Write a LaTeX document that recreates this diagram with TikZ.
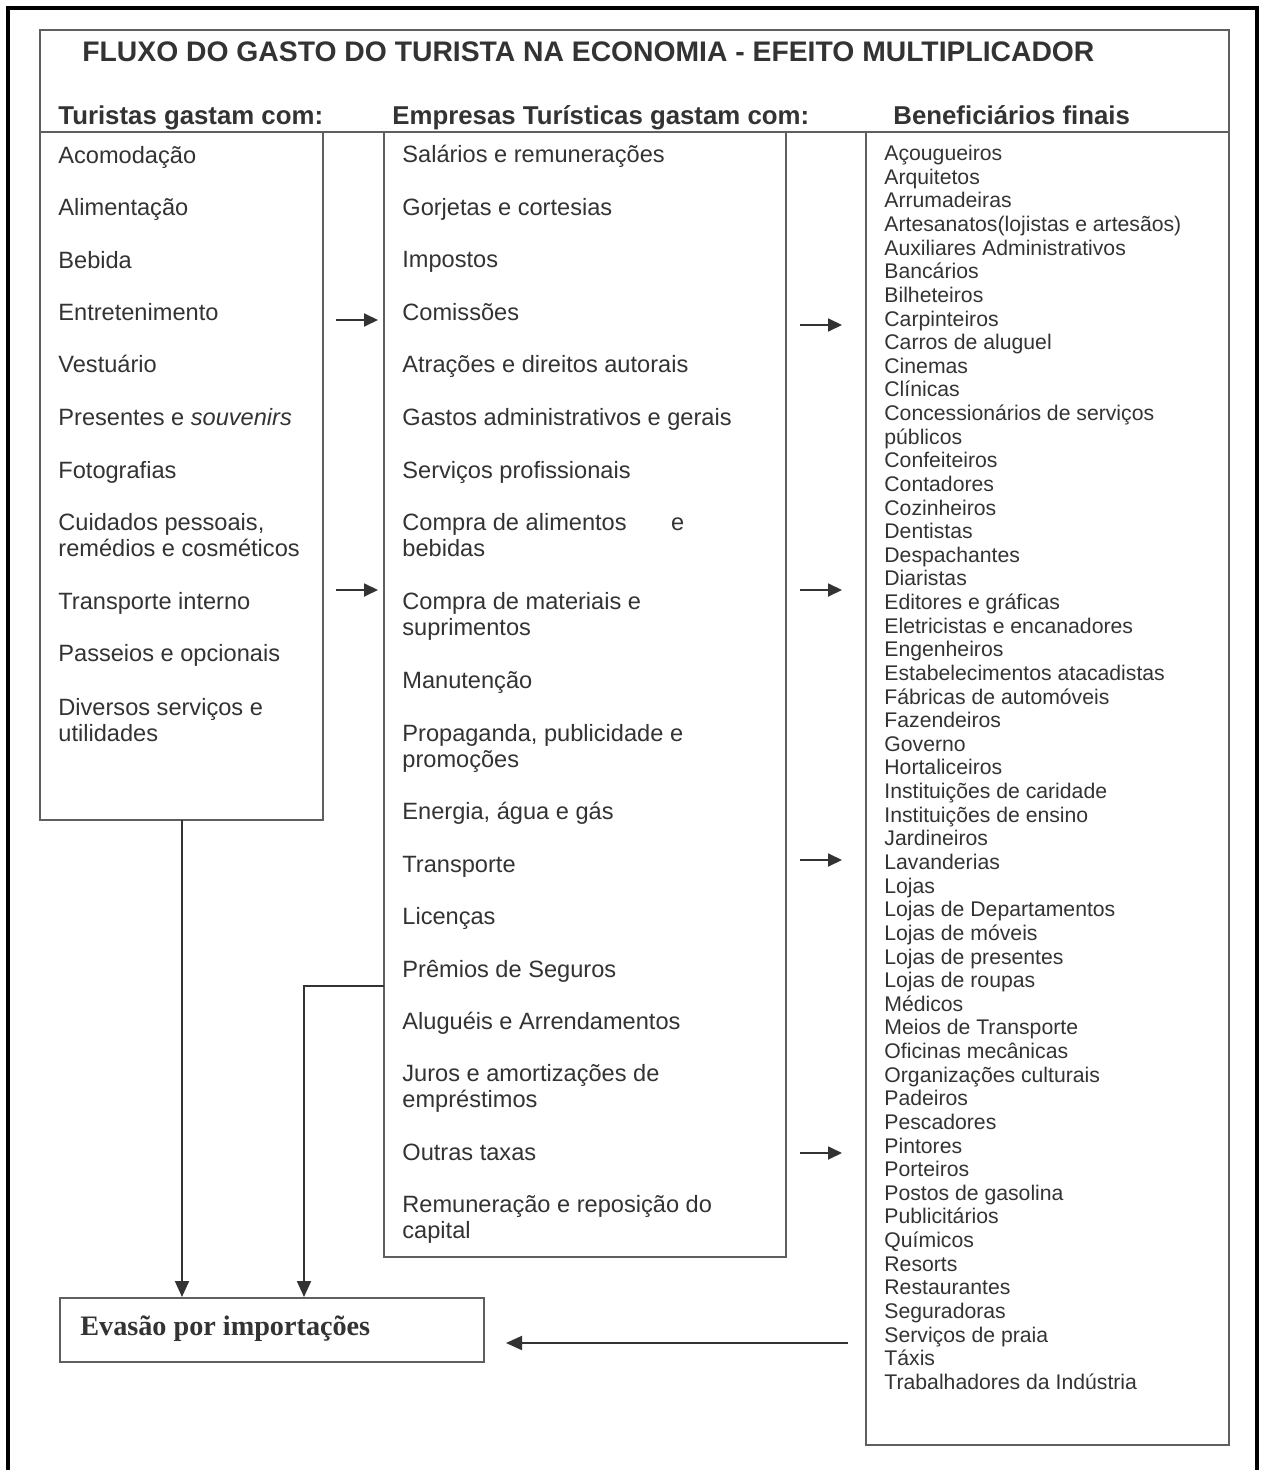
\documentclass[tikz,border=0pt]{standalone}
\usepackage{fontspec}
\setmainfont{Liberation Sans}
\newfontfamily\evfont{Liberation Serif}
\usetikzlibrary{arrows.meta,fit}
\definecolor{ink}{HTML}{333333}
\definecolor{rulec}{HTML}{5f5f5f}
\begin{document}
\begin{tikzpicture}[x=0.5pt,y=-0.5pt,
  box/.style={draw=rulec,line width=1pt,inner sep=0pt},
  item/.style={anchor=base west,inner sep=0pt,text=ink,font=\fontsize{11.8}{13}\selectfont},
  ben/.style={anchor=base west,inner sep=0pt,text=ink,font=\fontsize{10.6}{11.8}\selectfont},
  head/.style={anchor=base west,inner sep=0pt,text=ink,font=\fontsize{12.9}{15}\selectfont\bfseries},
  ttl/.style={anchor=base west,inner sep=0pt,text=ink,font=\fontsize{14.15}{16}\selectfont\bfseries},
  arr/.style={draw=ink,line width=1pt,-{Triangle[length=8pt,width=7pt]}},
  sarr/.style={draw=ink,line width=0.9pt,-{Triangle[length=7pt,width=6.5pt]}}]
\useasboundingbox (0,0) rectangle (1264,1470);
\fill[white] (0,0) rectangle (1264,1470);
% outer frame
\draw[black,line width=1.6pt] (8,1480) -- (8,8) -- (1257,8) -- (1257,1480);
% boxes
\node[box,fit={(40,30) (1229,132)}] (H) {};
\node[box,fit={(40,132) (323,820)}] (L) {};
\node[box,fit={(384,132) (786,1257)}] (M) {};
\node[box,fit={(866,132) (1229,1445)}] (R) {};
\node[box,fit={(60,1298) (484,1362)}] (E) {};
% title and headers
\node[ttl] (title) at (82,62) {FLUXO DO GASTO DO TURISTA NA ECONOMIA - EFEITO MULTIPLICADOR};
\node[head] (h1) at (58,125) {Turistas gastam com:};
\node[head] (h2) at (392,125) {Empresas Turísticas gastam com:};
\node[head] (h3) at (893,125) {Beneficiários finais};
% left column
\node[item] (l1) at (58,164) {Acomodação};
\node[item] (l2) at (58,216) {Alimentação};
\node[item] (l3) at (58,269) {Bebida};
\node[item] (l4) at (58,321) {Entretenimento};
\node[item] (l5) at (58,373) {Vestuário};
\node[item] (l6) at (58,425) {Presentes e \textit{souvenirs}};
\node[item] (l7) at (58,478) {Fotografias};
\node[item] (l8) at (58,530) {Cuidados pessoais,};
\node[item] (l8b) at (58,556) {remédios e cosméticos};
\node[item] (l9) at (58,609) {Transporte interno};
\node[item] (l10) at (58,661) {Passeios e opcionais};
\node[item] (l11) at (58,715) {Diversos serviços e};
\node[item] (l11b) at (58,741) {utilidades};
% middle column
\node[item] (m1) at (402,163) {Salários e remunerações};
\node[item] (m2) at (402,216) {Gorjetas e cortesias};
\node[item] (m3) at (402,268) {Impostos};
\node[item] (m4) at (402,321) {Comissões};
\node[item] (m5) at (402,373) {Atrações e direitos autorais};
\node[item] (m6) at (402,425) {Gastos administrativos e gerais};
\node[item] (m7) at (402,478) {Serviços profissionais};
\node[item] (m8) at (402,530) {\makebox[141pt][l]{Compra de alimentos\hfill e}};
\node[item] (m8b) at (402,556) {bebidas};
\node[item] (m9) at (402,609) {Compra de materiais e};
\node[item] (m9b) at (402,635) {suprimentos};
\node[item] (m10) at (402,688) {Manutenção};
\node[item] (m11) at (402,741) {Propaganda, publicidade e};
\node[item] (m11b) at (402,767) {promoções};
\node[item] (m12) at (402,819) {Energia, água e gás};
\node[item] (m13) at (402,872) {Transporte};
\node[item] (m14) at (402,924) {Licenças};
\node[item] (m15) at (402,977) {Prêmios de Seguros};
\node[item] (m16) at (402,1029) {Aluguéis e Arrendamentos};
\node[item] (m17) at (402,1081) {Juros e amortizações de};
\node[item] (m17b) at (402,1107) {empréstimos};
\node[item] (m18) at (402,1160) {Outras taxas};
\node[item] (m19) at (402,1212) {Remuneração e reposição do};
\node[item] (m19b) at (402,1238) {capital};
% right column
\foreach \t [count=\i] in {Açougueiros, Arquitetos, Arrumadeiras, Artesanatos(lojistas e artesãos),
  Auxiliares Administrativos, Bancários, Bilheteiros, Carpinteiros, Carros de aluguel, Cinemas,
  Clínicas, Concessionários de serviços, públicos, Confeiteiros, Contadores, Cozinheiros, Dentistas,
  Despachantes, Diaristas, Editores e gráficas, Eletricistas e encanadores, Engenheiros,
  Estabelecimentos atacadistas, Fábricas de automóveis, Fazendeiros, Governo, Hortaliceiros,
  Instituições de caridade, Instituições de ensino, Jardineiros, Lavanderias, Lojas,
  Lojas de Departamentos, Lojas de móveis, Lojas de presentes, Lojas de roupas, Médicos,
  Meios de Transporte, Oficinas mecânicas, Organizações culturais, Padeiros, Pescadores, Pintores,
  Porteiros, Postos de gasolina, Publicitários, Químicos, Resorts, Restaurantes, Seguradoras,
  Serviços de praia, Táxis, Trabalhadores da Indústria}
  \node[ben] (b\i) at (884,{160.6+23.63*(\i-1)}) {\t};
% evasion box text
\node[anchor=base west,inner sep=0pt,text=ink,font=\evfont\fontsize{14.1}{16}\selectfont\bfseries] (ev) at (80,1335) {Evasão por importações};
% small arrows
\coordinate (s1) at (336,320); \coordinate (e1) at (378,320);
\coordinate (s2) at (336,590); \coordinate (e2) at (378,590);
\coordinate (s3) at (800,325); \coordinate (e3) at (842,325);
\coordinate (s4) at (800,590); \coordinate (e4) at (842,590);
\coordinate (s5) at (800,860); \coordinate (e5) at (842,860);
\coordinate (s6) at (800,1153); \coordinate (e6) at (842,1153);
\foreach \k in {1,...,6} \draw[sarr] (s\k) -- (e\k);
% flows to evasion
\coordinate (lb) at (182,820);
\draw[arr] (lb) -- (lb |- E.north);
\coordinate (mb) at (384,986);
\coordinate (mc) at (304,986);
\draw[arr] (mb) -- (mc) -- (mc |- E.north);
\coordinate (rs) at (848,1343);
\draw[arr,shorten >=10.5pt] (rs) -- (rs -| E.east);
\end{tikzpicture}
\end{document}
